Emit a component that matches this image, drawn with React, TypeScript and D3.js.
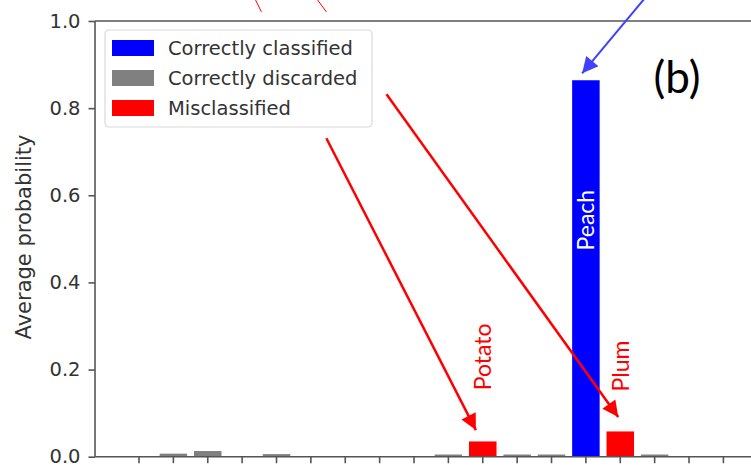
import { useEffect, useRef } from "react";
import * as d3 from "d3";

// bar heights per class slot (index 0..17)
const values = [0, 0.007, 0.013, 0, 0.006, 0, 0, 0, 0, 0.005, 0.035, 0.005, 0.005, 0.864, 0.058, 0.005, 0, 0];
const kinds = ["d", "d", "d", "d", "d", "d", "d", "d", "d", "d", "m", "d", "d", "c", "m", "d", "d", "d"];
const yTicks = [0, 0.2, 0.4, 0.6, 0.8, 1.0];

const legendItems = [
  { key: "c", label: "Correctly classified" },
  { key: "d", label: "Correctly discarded" },
  { key: "m", label: "Misclassified" }
];
const colors: Record<string, string> = { c: "#0000ff", d: "#808080", m: "#ff0000" };

// bar labels: [index, value of text centre, text]
const barLabels = [
  { i: 10, v: 0.229, text: "Potato", fill: "#ff0000" },
  { i: 13, v: 0.543, text: "Peach", fill: "#ffffff" },
  { i: 14, v: 0.208, text: "Plum", fill: "#ff0000" }
];

// arrows in data units: from (x0,y0) to tip (x1,y1)
const arrows = [
  { x0: 5.45, y0: 0.731, x1: 9.8, y1: 0.061, color: "#ff0000", w: 2.5 },
  { x0: 7.2, y0: 0.832, x1: 13.94, y1: 0.091, color: "#ff0000", w: 2.5 },
  { x0: 14.69, y0: 1.05, x1: 12.89, y1: 0.88, color: "#4040ff", w: 2 }
];
// thin stubs above the axes
const stubs = [
  { x0: 3.38, y0: 1.05, x1: 3.56, y1: 1.021 },
  { x0: 5.18, y0: 1.05, x1: 5.45, y1: 1.021 }
];

export default function App() {
  const svgRef = useRef<SVGSVGElement>(null);
  const width = 751;
  const height = 467;

  useEffect(() => {
    if (!svgRef.current) return;
    const svg = d3.select(svgRef.current);
    svg.selectAll("*").remove();

    const left = 95;
    const top = 21;
    const bottom = 456.7;

    const x = d3.scaleLinear().domain([-1.28, 18.28]).range([left, 767.4]);
    const y = d3.scaleLinear().domain([0, 1]).range([bottom, top]);
    const bw = x(0.8) - x(0);

    const font = "DejaVu Sans, sans-serif";
    const annFont = "Lato, sans-serif";

    // bars
    svg.append("g")
      .selectAll("rect")
      .data(values)
      .join("rect")
      .attr("x", (_, i) => x(i) - bw / 2)
      .attr("width", bw)
      .attr("y", d => y(d))
      .attr("height", d => bottom - y(d))
      .attr("fill", (_, i) => colors[kinds[i]]);

    // spines
    const spine = "#555";
    svg.append("line").attr("x1", left).attr("x2", width).attr("y1", top).attr("y2", top)
      .attr("stroke", spine).attr("stroke-width", 1.6);
    svg.append("line").attr("x1", left).attr("x2", width).attr("y1", bottom).attr("y2", bottom)
      .attr("stroke", spine).attr("stroke-width", 1.6);
    svg.append("line").attr("x1", left).attr("x2", left).attr("y1", top).attr("y2", bottom)
      .attr("stroke", spine).attr("stroke-width", 1.6);

    // x ticks (no labels)
    svg.append("g")
      .selectAll("line")
      .data(d3.range(values.length))
      .join("line")
      .attr("x1", d => x(d)).attr("x2", d => x(d))
      .attr("y1", bottom).attr("y2", bottom + 6.5)
      .attr("stroke", spine).attr("stroke-width", 1.6);

    // y axis
    const yAxis = svg.append("g")
      .attr("transform", `translate(${left},0)`)
      .call(d3.axisLeft(y).tickValues(yTicks).tickFormat(d => (d as number).toFixed(1)).tickSize(6.5).tickPadding(8));
    yAxis.select(".domain").remove();
    yAxis.selectAll("line").attr("stroke", spine).attr("stroke-width", 1.6);
    yAxis.selectAll("text").attr("fill", "#333").attr("font-size", "19.5px").attr("font-family", font);

    svg.append("text")
      .attr("transform", `translate(31,237) rotate(-90)`)
      .attr("text-anchor", "middle")
      .attr("fill", "#333")
      .attr("font-size", "21px")
      .attr("font-family", font)
      .text("Average probability");

    // arrows
    const defs = svg.append("defs");
    arrows.forEach((a, k) => {
      defs.append("marker")
        .attr("id", `ah${k}`)
        .attr("viewBox", "0 0 10 10")
        .attr("refX", 10).attr("refY", 5)
        .attr("markerUnits", "userSpaceOnUse")
        .attr("markerWidth", 19).attr("markerHeight", 16)
        .attr("orient", "auto")
        .append("path")
        .attr("d", "M0,0 L10,5 L0,10 Z")
        .attr("fill", a.color);
      svg.append("line")
        .attr("x1", x(a.x0)).attr("y1", y(a.y0))
        .attr("x2", x(a.x1)).attr("y2", y(a.y1))
        .attr("stroke", a.color)
        .attr("stroke-width", a.w)
        .attr("marker-end", `url(#ah${k})`);
    });
    stubs.forEach(s => {
      svg.append("line")
        .attr("x1", x(s.x0)).attr("y1", y(s.y0))
        .attr("x2", x(s.x1)).attr("y2", y(s.y1))
        .attr("stroke", "#ff0000").attr("stroke-width", 1);
    });

    // bar labels
    barLabels.forEach(b => {
      svg.append("text")
        .attr("transform", `translate(${x(b.i) + 8.5},${y(b.v)}) rotate(-90)`)
        .attr("text-anchor", "middle")
        .attr("fill", b.fill)
        .attr("font-size", "23px")
        .attr("font-family", annFont)
        .text(b.text);
    });

    svg.append("text")
      .attr("x", 677).attr("y", 76)
      .attr("text-anchor", "middle")
      .attr("dominant-baseline", "central")
      .attr("fill", "#000")
      .attr("font-size", "44px")
      .attr("font-family", annFont)
      .text("(b)");

    // legend
    const lg = svg.append("g").attr("transform", "translate(105,30)");
    lg.append("rect")
      .attr("width", 267).attr("height", 97)
      .attr("rx", 4)
      .attr("fill", "#fff").attr("fill-opacity", 0.9)
      .attr("stroke", "#d9d9d9").attr("stroke-width", 1.2);
    legendItems.forEach((it, k) => {
      const cy = 18 + k * 30;
      lg.append("rect")
        .attr("x", 7).attr("y", cy - 8)
        .attr("width", 42).attr("height", 16)
        .attr("fill", colors[it.key]);
      lg.append("text")
        .attr("x", 63).attr("y", cy)
        .attr("dominant-baseline", "central")
        .attr("fill", "#333")
        .attr("font-size", "19.5px")
        .attr("font-family", font)
        .text(it.label);
    });
  }, []);

  return (
    <svg
      ref={svgRef}
      width={width}
      height={height}
      style={{ position: "absolute", left: 0, top: 0, background: "#fff" }}
    />
  );
}
